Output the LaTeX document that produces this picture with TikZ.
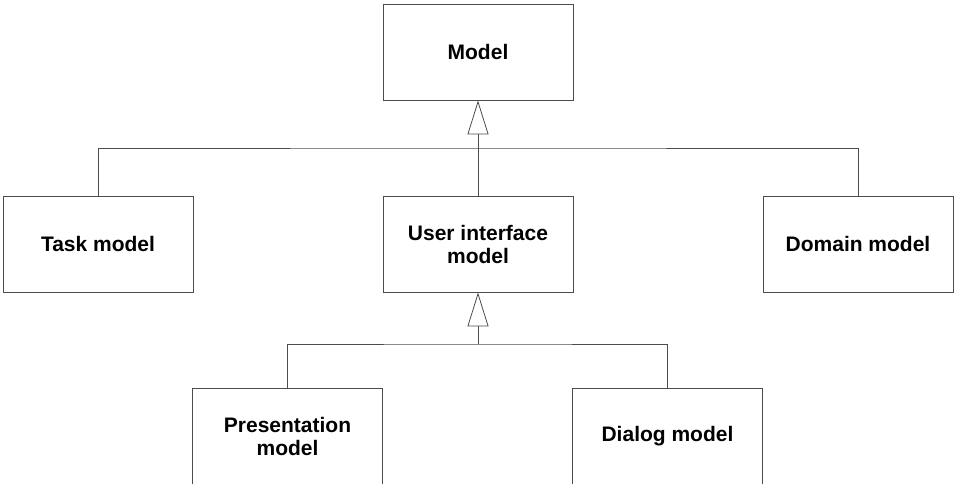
\documentclass[tikz,border=0pt]{standalone}
\usepackage{fontspec}
\setmainfont{Liberation Sans}
\usetikzlibrary{arrows.meta, positioning}

\begin{document}
\begin{tikzpicture}[x=1pt, y=-1pt, draw=black!70, line width=0.8pt]
\tikzstyle{box}=[rectangle, draw=black!70, minimum width=190pt, minimum height=96pt, inner sep=0pt, align=center, font=\fontsize{21}{23}\selectfont\bfseries]
\tikzstyle{inherit}=[-{Triangle[open, length=34pt, width=21pt]}]

% Keep the page the size of the reference
\useasboundingbox (0,0) rectangle (954,483);

% Draw the top model
\node[box] (model) at (478,52) {Model};

% Draw the middle row of models
\node[box] (task) at (98,244) {Task model};
\node[box] (ui) at (478,244) {User interface\\model};
\node[box] (domain) at (858,244) {Domain model};

% Draw the bottom row of models
\node[box] (pres) at (287.5,436) {Presentation\\model};
\node[box] (dialog) at (667.5,436) {Dialog model};

% Junction points of the bars
\coordinate (bar1) at (478,148);
\coordinate (bar2) at (478,344);

% Connect the middle row to the model
\draw (task.north) |- (bar1) -| (domain.north);
\draw[inherit] (ui.north) -- (model.south);

% Connect the bottom row to the user interface model
\draw (pres.north) |- (bar2) -| (dialog.north);
\draw[inherit] (bar2) -- (ui.south);

\end{tikzpicture}
\end{document}
